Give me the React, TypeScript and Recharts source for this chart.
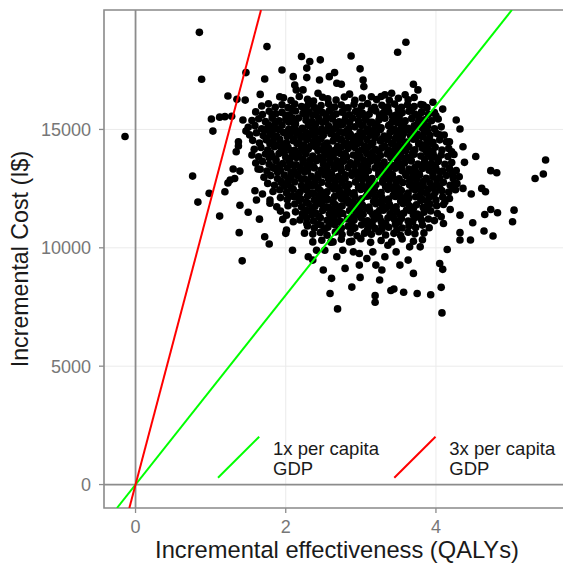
import { ScatterChart, Scatter, XAxis, YAxis, CartesianGrid, ReferenceLine, ReferenceArea, Legend } from 'recharts'

const FONT = '"Liberation Sans", Arial, Helvetica, sans-serif'

// axis setup
const qalyDomain: [number, number] = [-0.42, 5.785]
const costDomain: [number, number] = [-990, 20045]
const qalyTicks = [0, 2, 4]
const costTicks = [0, 5000, 10000, 15000]

// willingness-to-pay thresholds
const gdpPerCapita = 4000
const thresholdMultiples = [1, 3]
const thresholdColors = ['#00ff00', '#ff0000']
const thresholdLabels = [['1x per capita', 'GDP'], ['3x per capita', 'GDP']]

// scattered draws around the cloud: [QALYs, cost]
const outlierDraws: [number, number][] = [
  [-0.14, 14700],
  [0.85, 19100], [0.88, 17120], [0.76, 13030], [0.83, 11930], [0.98, 12300], [1.12, 11340],
  [1.75, 18500], [1.47, 17400], [1.72, 17130], [1.95, 17510], [2.21, 18080],
  [1.23, 16410], [1.35, 16270], [1.46, 16240], [1.66, 16480],
  [1.01, 15440], [1.12, 15520], [1.19, 15540], [1.28, 15560], [1.43, 15400],
  [1.03, 14930], [1.47, 14930], [1.37, 14480], [1.37, 14300], [1.34, 14060],
  [1.30, 13330], [1.39, 13240], [1.26, 12860], [1.23, 12740], [1.32, 12930], [1.19, 12370],
  [1.39, 11800], [1.50, 11500], [1.65, 11210], [1.38, 10640], [1.42, 9450],
  [1.63, 13330], [1.59, 12410], [1.69, 12270], [1.61, 12020], [1.79, 12020], [1.79, 11880], [1.88, 11730],
  [1.93, 11550], [2.01, 11380], [2.10, 11100], [2.01, 10750], [2.25, 11380], [2.28, 11030], [1.96, 11200],
  [1.72, 10470], [1.78, 10160], [2.00, 10610], [2.09, 9900], [2.25, 10620], [2.30, 9620],
  [2.36, 10250], [2.41, 9900], [2.36, 9480], [2.50, 9060], [2.61, 8710], [2.59, 8070], [2.69, 7420],
  [2.79, 9130], [2.88, 8340], [2.99, 8750], [2.98, 9270], [3.08, 9550], [3.16, 9830], [3.20, 9270],
  [3.28, 9060], [3.25, 8640], [3.19, 7980], [3.19, 7700], [3.40, 8200], [3.44, 8260], [3.57, 8120],
  [3.75, 8070], [3.93, 8020], [3.70, 8920], [3.52, 9270], [3.63, 9480], [3.47, 9830], [3.32, 9620],
  [2.90, 9830], [2.98, 9760], [2.76, 9900], [2.63, 10250], [2.85, 10250], [2.68, 9620], [2.52, 9900],
  [3.79, 10040], [3.65, 10040], [3.36, 10110], [4.07, 8330], [4.08, 7250],
  [4.05, 9340], [4.09, 9090], [4.15, 9930], [4.32, 10330], [4.32, 10640], [4.46, 10330], [4.49, 11060],
  [4.64, 10710], [4.76, 10500], [4.65, 11410], [4.73, 11620], [4.82, 11480], [5.04, 11590], [5.02, 11100],
  [4.32, 11380], [4.47, 12270], [4.36, 12510], [4.61, 12510], [4.66, 12370], [4.73, 13260], [4.81, 13170],
  [5.32, 12930], [5.43, 13120], [5.46, 13710], [4.19, 11620], [4.07, 11310], [4.10, 11030], [4.12, 11950],
  [4.23, 12510], [4.25, 12720], [4.22, 13120], [4.53, 13860], [4.36, 14270], [4.38, 13610], [4.21, 14060],
  [4.18, 14480], [4.05, 14770], [4.18, 13360], [4.27, 15400], [4.32, 15020], [4.09, 15860], [4.00, 15580],
  [3.96, 16150],
  [3.60, 18680], [3.49, 18260], [2.87, 18100], [2.46, 17940], [2.32, 17870], [2.28, 17590], [2.99, 17560],
  [2.65, 17400], [2.58, 17230], [2.28, 17190], [2.45, 17090], [2.10, 17230], [2.68, 16950], [2.74, 16910],
  [3.03, 17090], [3.04, 16810], [3.70, 16910], [3.76, 16670], [2.12, 16880], [2.14, 16670], [2.23, 16670],
  [2.43, 16530], [2.85, 16490], [3.14, 16380], [3.32, 16460], [3.41, 16530], [3.59, 16460], [3.83, 16030],
  [3.81, 15750], [1.92, 16380],
]

// the dense middle of the cloud, read band by band
const clusterDraws: [number, number][] = [
  [1.97, 16340], [2.07, 16220], [2.18, 16390], [2.29, 16270], [2.37, 16200], [2.49, 16360], [2.56, 16290], [2.67, 16240], [2.78, 16370], [2.92, 16230], [3.02, 16330], [3.21, 16260], [3.27, 16390], [3.38, 16230], [3.50, 16320], [3.63, 16250], [3.71, 16350],
  [1.68, 15990], [1.77, 16080], [1.86, 15940], [1.95, 16040], [2.03, 15920], [2.12, 16070], [2.21, 15970], [2.30, 16050], [2.38, 15930], [2.47, 16010], [2.57, 16080], [2.65, 15950], [2.74, 16030], [2.83, 15910], [2.91, 16060], [3.01, 15980], [3.09, 16090], [3.18, 15940], [3.28, 16020], [3.36, 15960], [3.45, 16070], [3.54, 15930], [3.62, 16040], [3.71, 15970], [3.80, 16050], [3.88, 15920],
  [1.60, 15740], [1.69, 15630], [1.78, 15770], [1.87, 15660], [1.95, 15720], [2.05, 15610], [2.13, 15780], [2.23, 15680], [2.31, 15750], [2.40, 15640], [2.49, 15710], [2.58, 15790], [2.67, 15650], [2.75, 15730], [2.85, 15620], [2.93, 15760], [3.02, 15690], [3.11, 15640], [3.20, 15780], [3.29, 15670], [3.37, 15740], [3.47, 15610], [3.55, 15700], [3.64, 15770], [3.72, 15650], [3.81, 15720], [3.90, 15640], [3.98, 15710],
  [1.55, 15380], [1.64, 15450], [1.73, 15330], [1.82, 15470], [1.91, 15360], [2.00, 15420], [2.09, 15310], [2.17, 15480], [2.27, 15390], [2.35, 15330], [2.44, 15460], [2.53, 15370], [2.62, 15440], [2.71, 15320], [2.79, 15410], [2.89, 15480], [2.97, 15350], [3.06, 15430], [3.15, 15300], [3.24, 15400], [3.32, 15470], [3.42, 15340], [3.50, 15420], [3.59, 15360], [3.68, 15450], [3.77, 15330], [3.85, 15410], [3.94, 15370], [4.03, 15440],
  [1.50, 15090], [1.59, 15160], [1.68, 15030], [1.77, 15140], [1.85, 15060], [1.95, 15180], [2.04, 15010], [2.12, 15120], [2.22, 15050], [2.30, 15170], [2.39, 15080], [2.48, 15020], [2.57, 15150], [2.66, 15060], [2.74, 15190], [2.84, 15040], [2.92, 15110], [3.01, 15170], [3.10, 15030], [3.19, 15130], [3.27, 15070], [3.37, 15160], [3.45, 15010], [3.54, 15120], [3.63, 15050], [3.71, 15150], [3.81, 15080], [3.89, 15140], [3.98, 15030], [4.07, 15110],
  [1.52, 14770], [1.61, 14860], [1.70, 14740], [1.79, 14830], [1.88, 14720], [1.97, 14870], [2.06, 14780], [2.15, 14840], [2.24, 14710], [2.33, 14800], [2.42, 14880], [2.50, 14750], [2.60, 14820], [2.68, 14730], [2.77, 14860], [2.86, 14790], [2.95, 14710], [3.04, 14850], [3.13, 14760], [3.21, 14830], [3.31, 14720], [3.39, 14880], [3.48, 14770], [3.57, 14840], [3.66, 14740], [3.75, 14810], [3.84, 14870], [3.92, 14750], [4.01, 14830], [4.11, 14760],
  [1.56, 14540], [1.65, 14430], [1.74, 14560], [1.83, 14470], [1.92, 14580], [2.01, 14440], [2.10, 14520], [2.18, 14410], [2.28, 14560], [2.37, 14480], [2.45, 14590], [2.55, 14430], [2.63, 14510], [2.72, 14570], [2.81, 14420], [2.90, 14530], [2.99, 14460], [3.08, 14580], [3.16, 14440], [3.26, 14510], [3.34, 14570], [3.43, 14420], [3.52, 14540], [3.61, 14470], [3.70, 14590], [3.78, 14430], [3.88, 14520], [3.96, 14460], [4.05, 14560], [4.14, 14480],
  [1.58, 14160], [1.67, 14240], [1.76, 14130], [1.85, 14270], [1.94, 14180], [2.03, 14250], [2.12, 14120], [2.21, 14230], [2.30, 14170], [2.39, 14280], [2.48, 14140], [2.57, 14220], [2.65, 14110], [2.74, 14260], [2.83, 14190], [2.92, 14240], [3.01, 14130], [3.10, 14270], [3.19, 14160], [3.28, 14220], [3.37, 14120], [3.46, 14250], [3.55, 14180], [3.64, 14270], [3.72, 14140], [3.82, 14210], [3.90, 14160], [3.99, 14250], [4.08, 14130], [4.17, 14200],
  [1.55, 13920], [1.64, 13840], [1.73, 13960], [1.82, 13870], [1.91, 13980], [2.00, 13830], [2.09, 13910], [2.18, 13850], [2.27, 13970], [2.36, 13880], [2.45, 13820], [2.54, 13950], [2.63, 13870], [2.72, 13990], [2.81, 13840], [2.90, 13920], [2.99, 13860], [3.08, 13970], [3.17, 13830], [3.26, 13900], [3.35, 13960], [3.44, 13850], [3.53, 13930], [3.62, 13820], [3.71, 13950], [3.80, 13880], [3.89, 13970], [3.98, 13840], [4.07, 13920], [4.16, 13860], [4.24, 13940],
  [1.60, 13580], [1.69, 13650], [1.78, 13530], [1.87, 13670], [1.96, 13560], [2.05, 13640], [2.14, 13510], [2.23, 13620], [2.32, 13570], [2.41, 13680], [2.50, 13540], [2.59, 13610], [2.68, 13520], [2.77, 13660], [2.86, 13590], [2.95, 13640], [3.04, 13530], [3.13, 13670], [3.22, 13560], [3.31, 13620], [3.40, 13510], [3.49, 13650], [3.58, 13580], [3.67, 13670], [3.76, 13540], [3.85, 13610], [3.94, 13560], [4.03, 13650], [4.12, 13530], [4.21, 13600],
  [1.66, 13320], [1.75, 13240], [1.84, 13360], [1.93, 13270], [2.02, 13380], [2.11, 13230], [2.20, 13310], [2.29, 13250], [2.38, 13370], [2.47, 13280], [2.56, 13220], [2.65, 13350], [2.74, 13270], [2.83, 13390], [2.92, 13240], [3.01, 13320], [3.10, 13260], [3.19, 13370], [3.28, 13230], [3.37, 13300], [3.46, 13360], [3.55, 13250], [3.64, 13330], [3.73, 13220], [3.82, 13350], [3.91, 13280], [4.00, 13370], [4.09, 13240], [4.18, 13320], [4.27, 13260],
  [1.71, 12980], [1.80, 13050], [1.89, 12930], [1.98, 13070], [2.07, 12960], [2.16, 13040], [2.25, 12910], [2.34, 13020], [2.43, 12970], [2.52, 13080], [2.61, 12940], [2.70, 13010], [2.79, 12920], [2.88, 13060], [2.97, 12990], [3.06, 13040], [3.15, 12930], [3.24, 13070], [3.33, 12960], [3.42, 13020], [3.51, 12910], [3.60, 13050], [3.69, 12980], [3.78, 13070], [3.87, 12940], [3.96, 13010], [4.05, 12960], [4.14, 13050], [4.23, 12930], [4.31, 13000],
  [1.76, 12720], [1.85, 12640], [1.94, 12760], [2.03, 12670], [2.12, 12780], [2.21, 12630], [2.30, 12710], [2.39, 12650], [2.48, 12770], [2.57, 12680], [2.66, 12620], [2.75, 12750], [2.84, 12670], [2.93, 12790], [3.02, 12640], [3.11, 12720], [3.20, 12660], [3.29, 12770], [3.38, 12630], [3.47, 12700], [3.56, 12760], [3.65, 12650], [3.74, 12730], [3.83, 12620], [3.92, 12750], [4.01, 12680], [4.10, 12770], [4.19, 12640], [4.28, 12710],
  [1.83, 12380], [1.92, 12450], [2.01, 12330], [2.10, 12470], [2.19, 12360], [2.28, 12440], [2.37, 12310], [2.46, 12420], [2.55, 12370], [2.64, 12480], [2.73, 12340], [2.82, 12410], [2.91, 12320], [3.00, 12460], [3.09, 12390], [3.18, 12440], [3.27, 12330], [3.36, 12470], [3.45, 12360], [3.54, 12420], [3.63, 12310], [3.72, 12450], [3.81, 12380], [3.90, 12470], [3.99, 12340], [4.08, 12410], [4.17, 12360], [4.26, 12450],
  [1.93, 12120], [2.02, 12040], [2.11, 12160], [2.20, 12070], [2.29, 12180], [2.38, 12030], [2.47, 12110], [2.56, 12050], [2.65, 12170], [2.74, 12080], [2.83, 12020], [2.92, 12150], [3.01, 12070], [3.10, 12190], [3.19, 12040], [3.28, 12120], [3.37, 12060], [3.46, 12170], [3.55, 12030], [3.64, 12100], [3.73, 12160], [3.82, 12050], [3.91, 12130], [4.00, 12020], [4.09, 12150], [4.18, 12080],
  [2.03, 11780], [2.12, 11850], [2.21, 11730], [2.30, 11870], [2.39, 11760], [2.48, 11840], [2.57, 11710], [2.66, 11820], [2.75, 11770], [2.84, 11880], [2.93, 11740], [3.02, 11810], [3.11, 11720], [3.20, 11860], [3.29, 11790], [3.38, 11840], [3.47, 11730], [3.56, 11870], [3.65, 11760], [3.74, 11820], [3.83, 11710], [3.92, 11850], [4.01, 11780], [4.10, 11830],
  [2.13, 11520], [2.22, 11440], [2.31, 11560], [2.40, 11470], [2.49, 11580], [2.58, 11430], [2.67, 11510], [2.76, 11450], [2.85, 11570], [2.94, 11480], [3.03, 11420], [3.12, 11550], [3.21, 11470], [3.30, 11590], [3.39, 11440], [3.48, 11520], [3.57, 11460], [3.66, 11570], [3.75, 11430], [3.84, 11500], [3.93, 11560], [4.02, 11450],
  [2.19, 11180], [2.28, 11250], [2.37, 11130], [2.46, 11270], [2.55, 11160], [2.64, 11240], [2.73, 11110], [2.82, 11220], [2.91, 11170], [3.00, 11280], [3.09, 11140], [3.18, 11210], [3.27, 11120], [3.36, 11260], [3.45, 11190], [3.54, 11240], [3.63, 11130], [3.72, 11270], [3.81, 11160], [3.90, 11220], [3.98, 11150],
  [2.29, 10920], [2.38, 10840], [2.47, 10960], [2.56, 10870], [2.65, 10980], [2.74, 10830], [2.83, 10910], [2.92, 10850], [3.01, 10970], [3.10, 10880], [3.19, 10820], [3.28, 10950], [3.37, 10870], [3.46, 10990], [3.55, 10840], [3.64, 10920], [3.73, 10860], [3.82, 10960], [3.91, 10850],
  [2.36, 10580], [2.46, 10650], [2.55, 10530], [2.66, 10670], [2.75, 10560], [2.86, 10640], [2.95, 10510], [3.05, 10620], [3.14, 10570], [3.24, 10680], [3.33, 10540], [3.44, 10610], [3.53, 10520], [3.63, 10660], [3.72, 10590], [3.84, 10630],
  [2.48, 10320], [2.60, 10240], [2.74, 10360], [2.88, 10270], [3.00, 10380], [3.13, 10230], [3.27, 10310], [3.41, 10250], [3.55, 10370], [3.70, 10280], [3.82, 10340],
]

// more draws sitting between the bands above, inside the cloud only
const clusterFillDraws: [number, number][] = [
  [2.08, 15870], [2.26, 15910], [2.43, 15860], [2.61, 15890], [2.79, 15900], [2.96, 15780], [3.14, 15830], [3.32, 15800], [3.50, 15840], [3.67, 15810],
  [1.82, 15590], [2.00, 15600], [2.09, 15480], [2.27, 15530], [2.36, 15610], [2.54, 15550], [2.63, 15590], [2.80, 15580], [2.98, 15600], [3.07, 15540], [3.25, 15590], [3.42, 15570], [3.51, 15530], [3.68, 15480], [3.77, 15560],
  [1.77, 15200], [1.86, 15270], [2.04, 15310], [2.13, 15240], [2.31, 15280], [2.40, 15230], [2.49, 15300], [2.67, 15260], [2.76, 15220], [2.85, 15290], [3.03, 15190], [3.12, 15300], [3.21, 15230], [3.39, 15210], [3.48, 15290], [3.57, 15240], [3.75, 15200], [3.84, 15260],
  [1.73, 14990], [1.82, 14920], [1.91, 15000], [2.09, 14970], [2.18, 14930], [2.27, 14880], [2.36, 14990], [2.54, 14960], [2.63, 15000], [2.72, 14900], [2.81, 14940], [2.99, 14890], [3.08, 14950], [3.17, 14920], [3.26, 15000], [3.44, 14960], [3.53, 14930], [3.62, 14990], [3.71, 14900], [3.89, 14910],
  [1.75, 14600], [1.84, 14680], [2.02, 14700], [2.11, 14590], [2.20, 14660], [2.29, 14620], [2.38, 14710], [2.47, 14600], [2.65, 14630], [2.74, 14580], [2.83, 14690], [2.92, 14640], [3.01, 14700], [3.19, 14660], [3.28, 14590], [3.37, 14680], [3.46, 14630], [3.55, 14700], [3.73, 14650], [3.82, 14690], [3.91, 14610],
  [1.79, 14400], [1.88, 14330], [1.97, 14370], [2.15, 14410], [2.24, 14340], [2.33, 14300], [2.42, 14390], [2.51, 14320], [2.69, 14280], [2.78, 14360], [2.87, 14330], [2.96, 14410], [3.05, 14300], [3.14, 14380], [3.32, 14290], [3.41, 14400], [3.50, 14320], [3.59, 14370], [3.77, 14390], [3.86, 14340], [3.95, 14410],
  [1.80, 14000], [1.98, 14030], [2.07, 14100], [2.16, 13990], [2.25, 14060], [2.43, 14110], [2.52, 14000], [2.61, 14070], [2.70, 14030], [2.79, 13980], [2.97, 14040], [3.06, 14100], [3.15, 14010], [3.24, 14060], [3.42, 14080], [3.51, 14030], [3.60, 14100], [3.69, 14000], [3.87, 14090], [3.96, 14010],
  [1.78, 13800], [1.87, 13730], [2.05, 13690], [2.14, 13810], [2.23, 13740], [2.32, 13700], [2.50, 13720], [2.59, 13800], [2.68, 13680], [2.77, 13760], [2.95, 13810], [3.04, 13700], [3.13, 13780], [3.22, 13740], [3.40, 13800], [3.49, 13720], [3.58, 13770], [3.67, 13700], [3.85, 13740], [3.94, 13810], [4.03, 13710],
  [1.83, 13400], [1.92, 13470], [2.10, 13500], [2.19, 13390], [2.28, 13460], [2.37, 13420], [2.55, 13400], [2.64, 13470], [2.73, 13430], [2.91, 13490], [3.00, 13440], [3.09, 13500], [3.27, 13460], [3.36, 13390], [3.45, 13480], [3.54, 13430], [3.72, 13400], [3.81, 13450], [3.90, 13490], [3.99, 13410],
  [1.89, 13200], [2.07, 13170], [2.16, 13090], [2.25, 13210], [2.43, 13100], [2.52, 13190], [2.61, 13120], [2.79, 13080], [2.88, 13160], [2.97, 13130], [3.06, 13210], [3.24, 13180], [3.33, 13140], [3.42, 13090], [3.60, 13120], [3.69, 13170], [3.78, 13100], [3.96, 13140], [4.05, 13210],
  [1.94, 12800], [2.03, 12870], [2.21, 12900], [2.30, 12790], [2.39, 12860], [2.57, 12910], [2.66, 12800], [2.75, 12870], [2.93, 12780], [3.02, 12890], [3.11, 12840], [3.29, 12810], [3.38, 12860], [3.47, 12790], [3.65, 12830], [3.74, 12900], [3.83, 12800], [4.01, 12890],
  [1.98, 12600], [2.07, 12530], [2.25, 12490], [2.34, 12610], [2.43, 12540], [2.61, 12590], [2.70, 12520], [2.79, 12600], [2.97, 12560], [3.06, 12530], [3.15, 12610], [3.33, 12580], [3.42, 12540], [3.51, 12490], [3.69, 12520], [3.78, 12570], [3.96, 12590], [4.05, 12540],
  [2.08, 12200], [2.17, 12270], [2.35, 12300], [2.44, 12190], [2.53, 12260], [2.71, 12310], [2.80, 12200], [2.89, 12270], [3.07, 12180], [3.16, 12290], [3.25, 12240], [3.43, 12210], [3.52, 12260], [3.61, 12190], [3.79, 12230], [3.88, 12300], [3.97, 12200],
  [2.18, 12000], [2.27, 11930], [2.45, 11890], [2.54, 12010], [2.63, 11940], [2.81, 11990], [2.90, 11920], [2.99, 12000], [3.17, 11960], [3.26, 11930], [3.35, 12010], [3.53, 11980], [3.62, 11940], [3.80, 12000], [3.89, 11920],
  [2.26, 11600], [2.35, 11670], [2.53, 11700], [2.62, 11590], [2.71, 11660], [2.89, 11710], [2.98, 11600], [3.07, 11670], [3.25, 11580], [3.34, 11690], [3.43, 11640], [3.61, 11610], [3.70, 11660], [3.88, 11680],
  [2.35, 11400], [2.44, 11330], [2.62, 11290], [2.71, 11410], [2.89, 11300], [2.98, 11390], [3.16, 11400], [3.25, 11280], [3.43, 11330], [3.52, 11410], [3.70, 11380], [3.79, 11340],
  [2.43, 11000], [2.61, 11030], [2.70, 11100], [2.88, 11060], [3.06, 11110], [3.15, 11000], [3.33, 11030], [3.51, 11090], [3.69, 11100],
  [2.52, 10790], [2.71, 10760], [2.90, 10800], [3.09, 10770], [3.28, 10790], [3.48, 10760],
]

const draws = [...outlierDraws, ...clusterDraws, ...clusterFillDraws].map(([qaly, cost]) => ({ qaly, cost }))

// each threshold line runs y = k * GDP * x across the whole panel
const thresholdSeries = thresholdMultiples.map((k) => {
  const slope = k * gdpPerCapita
  return [
    { qaly: costDomain[0] / slope, cost: costDomain[0] },
    { qaly: costDomain[1] / slope, cost: costDomain[1] },
  ]
})

const Dot = (props: any) => <circle cx={props.cx} cy={props.cy} r={3.8} fill="#000" />
const NoDot = () => <g />

function ThresholdLegend() {
  return (
    <svg width={360} height={56} style={{ display: 'block', overflow: 'visible' }}>
      {thresholdLabels.map((lines, i) => {
        const left = i * 176.3
        return (
          <g key={i}>
            <line x1={left + 8} y1={47.7} x2={left + 49.2} y2={6.7} stroke={thresholdColors[i]} strokeWidth={2} />
            {lines.map((t, j) => (
              <text key={j} x={left + 63} y={25 + j * 20} fontSize={18.5} fill="#1a1a1a" fontFamily={FONT}>{t}</text>
            ))}
          </g>
        )
      })}
    </svg>
  )
}

export default function App() {
  const axisTick = { fontSize: 18, fill: '#777777', fontFamily: FONT }
  return (
    <div style={{ position: 'absolute', left: 0, top: 0, width: 563, height: 564, overflow: 'hidden', background: '#fff', fontFamily: FONT }}>
      <ScatterChart width={570} height={564} margin={{ top: 10, right: 0, bottom: 0, left: 0 }}>
        <CartesianGrid stroke="#ebebeb" strokeWidth={1} />

        <XAxis
          type="number"
          dataKey="qaly"
          domain={qalyDomain}
          ticks={qalyTicks}
          allowDataOverflow
          height={56}
          axisLine={false}
          tickLine={{ stroke: '#8c8c8c', strokeWidth: 1.3 }}
          tickSize={5}
          tickMargin={7}
          tick={axisTick}
          label={{ value: 'Incremental effectiveness (QALYs)', position: 'insideBottom', offset: 6, fontSize: 23.7, fill: '#1a1a1a', fontFamily: FONT }}
        />
        <YAxis
          type="number"
          dataKey="cost"
          domain={costDomain}
          ticks={costTicks}
          allowDataOverflow
          width={104}
          axisLine={false}
          tickLine={{ stroke: '#8c8c8c', strokeWidth: 1.3 }}
          tickSize={5}
          tickMargin={8}
          tick={axisTick}
          label={{ value: 'Incremental Cost (I$)', angle: -90, position: 'insideLeft', offset: 19.5, fontSize: 23.2, fill: '#1a1a1a', fontFamily: FONT, style: { textAnchor: 'middle' } }}
        />

        <ReferenceLine x={0} stroke="#8c8c8c" strokeWidth={1.8} />
        <ReferenceLine y={0} stroke="#8c8c8c" strokeWidth={1.8} />

        <Scatter name="draws" data={draws} shape={Dot} legendType="none" isAnimationActive={false} />

        {thresholdSeries.map((pts, i) => (
          <Scatter
            key={i}
            name={thresholdLabels[i].join(' ')}
            data={pts}
            fill={thresholdColors[i]}
            line={{ stroke: thresholdColors[i], strokeWidth: 2 }}
            shape={NoDot}
            legendType="line"
            isAnimationActive={false}
          />
        ))}

        <ReferenceArea
          x1={qalyDomain[0]}
          x2={qalyDomain[1]}
          y1={costDomain[0]}
          y2={costDomain[1]}
          fill="none"
          fillOpacity={0}
          stroke="#8c8c8c"
          strokeWidth={1.6}
        />

        <Legend
          layout="vertical"
          align="center"
          verticalAlign="middle"
          content={ThresholdLegend}
          wrapperStyle={{ left: 210, top: 430, width: 360, height: 56 }}
        />
      </ScatterChart>
    </div>
  )
}
